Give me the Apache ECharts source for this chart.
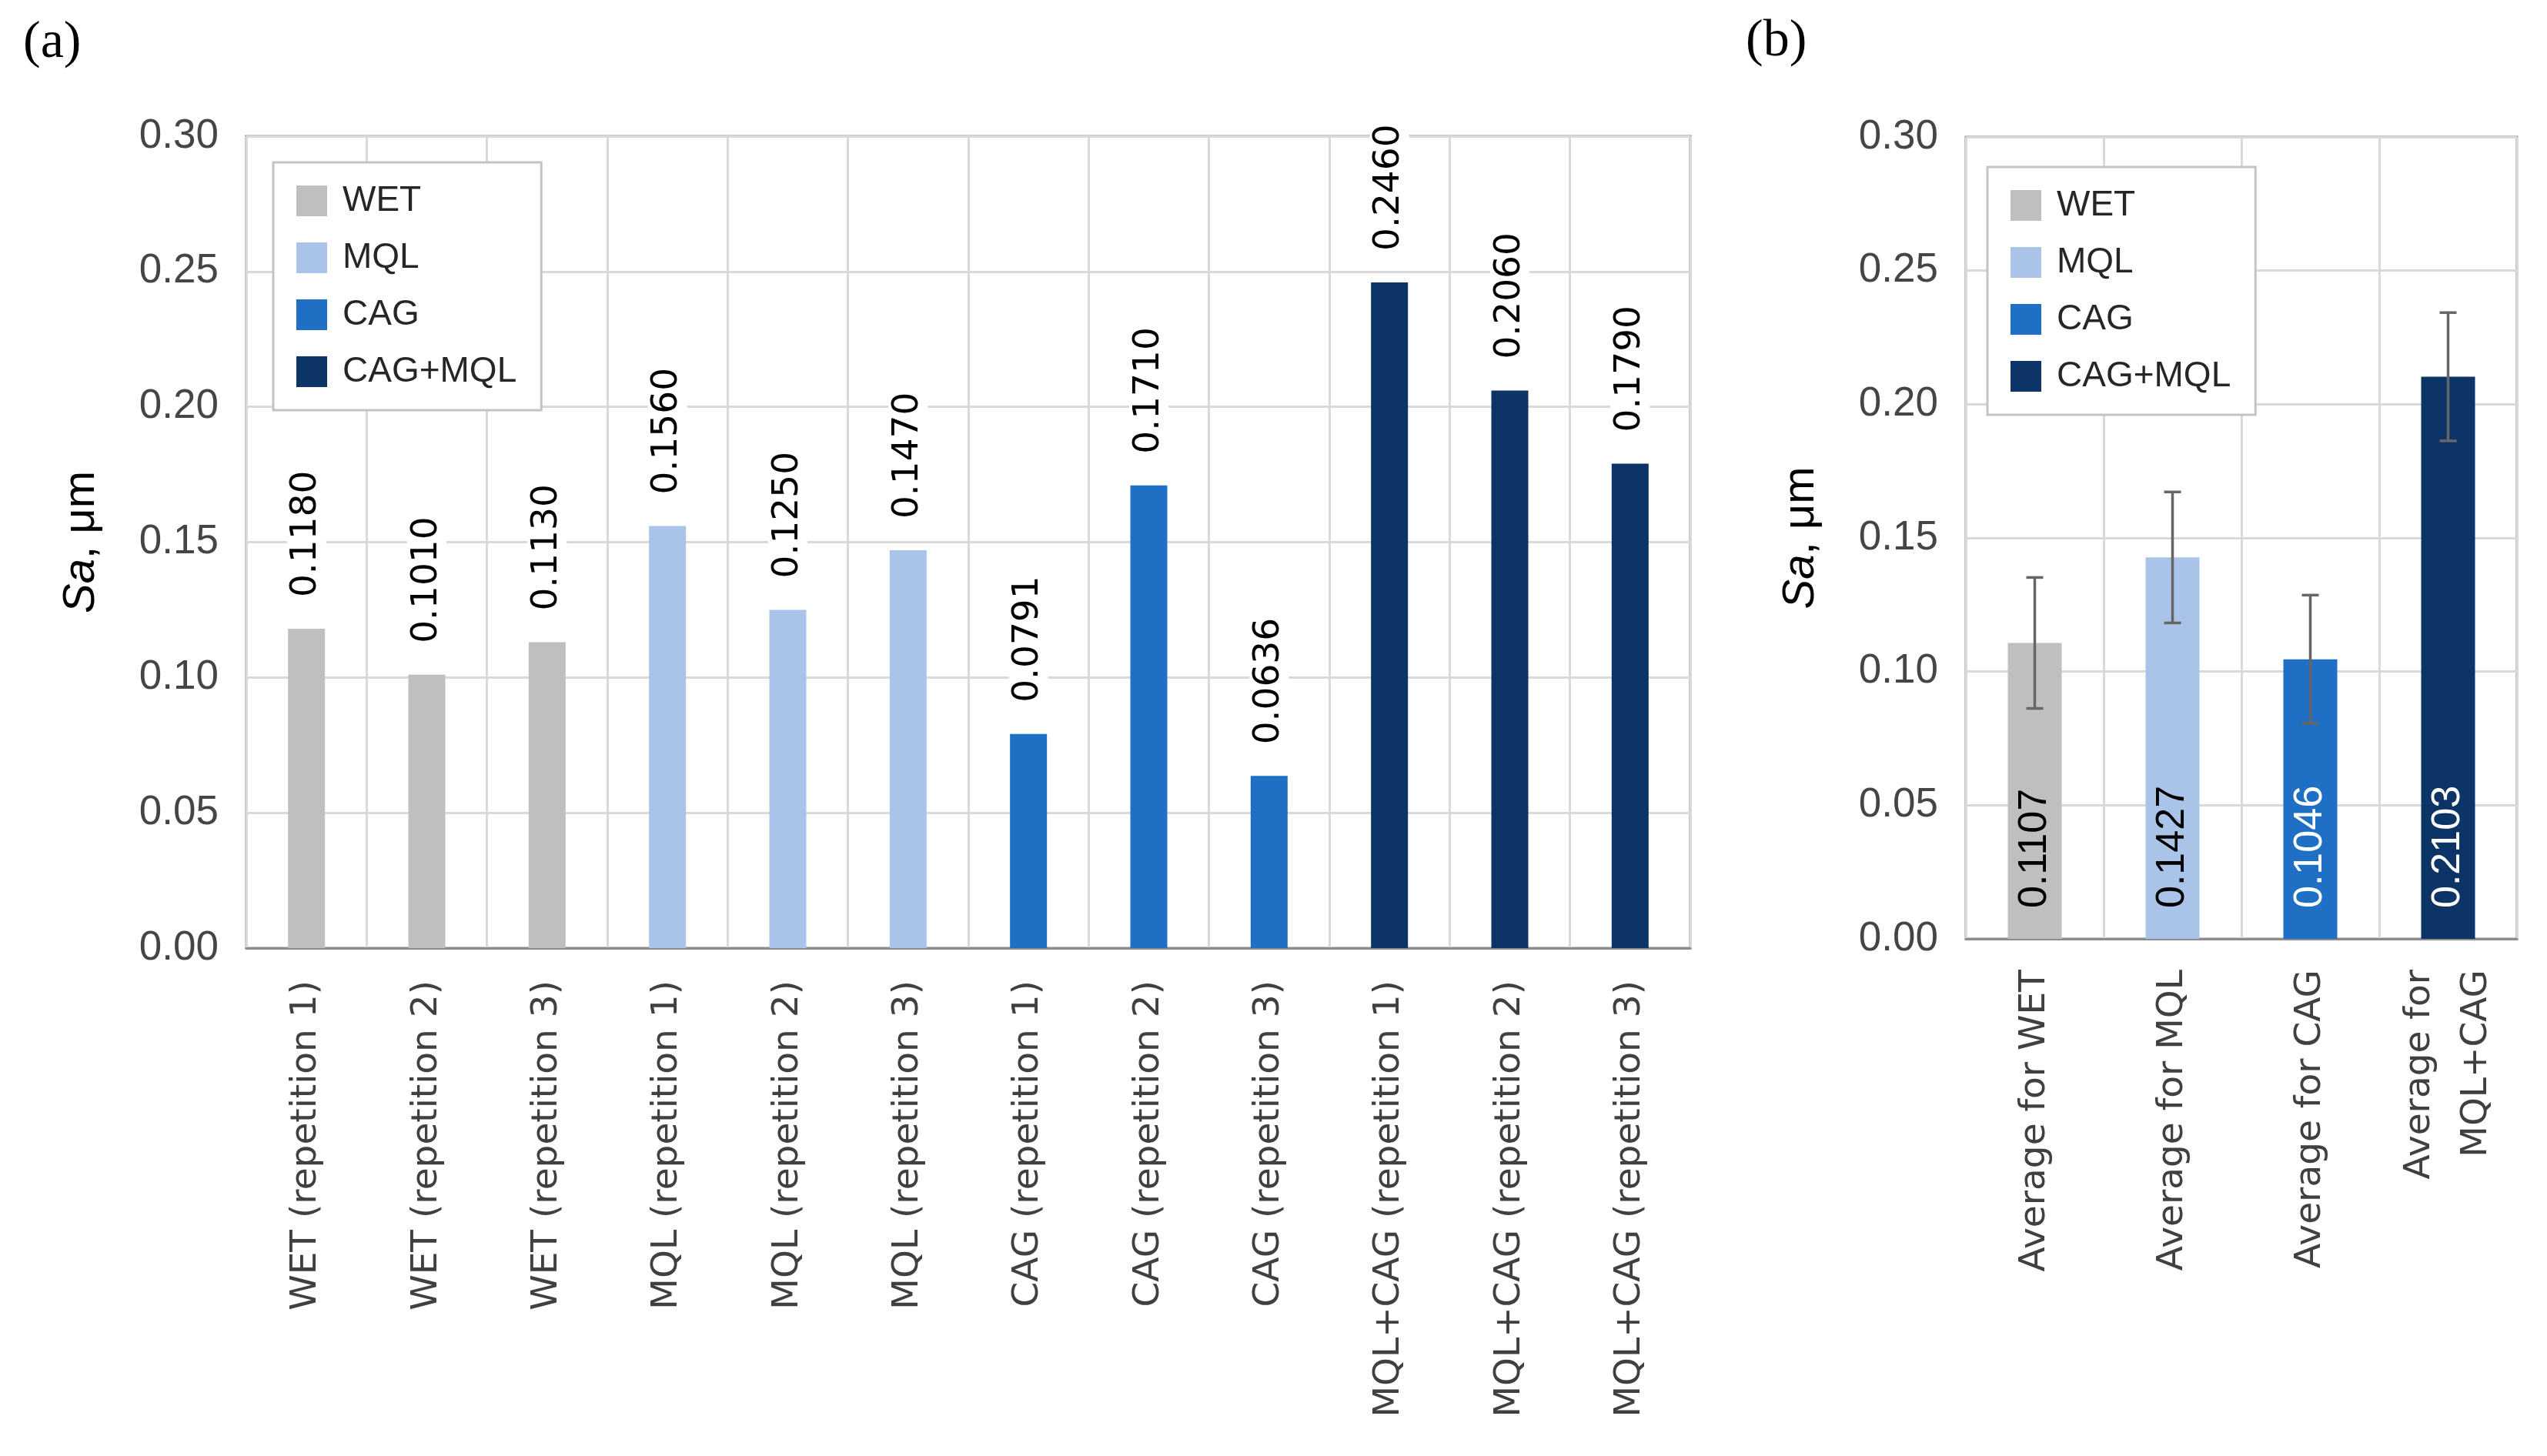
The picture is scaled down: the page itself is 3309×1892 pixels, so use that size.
<!DOCTYPE html>
<html>
<head>
<meta charset="utf-8">
<script src="https://cdn.jsdelivr.net/npm/echarts@6/dist/echarts.min.js"></script>
<style>
html,body{margin:0;padding:0;background:#fff;}
#chart{width:3309px;height:1892px;}
</style>
</head>
<body>
<div id="chart"></div>
<script>
// ---- data ----
const categoriesA = ['WET (repetition 1)','WET (repetition 2)','WET (repetition 3)',
  'MQL (repetition 1)','MQL (repetition 2)','MQL (repetition 3)',
  'CAG (repetition 1)','CAG (repetition 2)','CAG (repetition 3)',
  'MQL+CAG (repetition 1)','MQL+CAG (repetition 2)','MQL+CAG (repetition 3)'];
const valuesA = [0.1180, 0.1010, 0.1130, 0.1560, 0.1250, 0.1470, 0.0791, 0.1710, 0.0636, 0.2460, 0.2060, 0.1790];
const groupsA = ['WET','WET','WET','MQL','MQL','MQL','CAG','CAG','CAG','CAG+MQL','CAG+MQL','CAG+MQL'];
const groupNames = ['WET','MQL','CAG','CAG+MQL'];
const categoriesB = ['Average for WET','Average for MQL','Average for CAG','Average for\nMQL+CAG'];
const groupsB = ['WET','MQL','CAG','CAG+MQL'];
const valuesB = [0.1107, 0.1427, 0.1046, 0.2103];
const errorsB = [0.0245, 0.0245, 0.024, 0.024];
const yTicks = {min: 0, max: 0.30, interval: 0.05};

// ---- styles ----
const groupColors = {'WET':'#bfbfbf','MQL':'#a9c4e8','CAG':'#1f6fc5','CAG+MQL':'#0c3466'};
const labelColorsB = {'WET':'#000','MQL':'#000','CAG':'#fff','CAG+MQL':'#fff'};
const SANS = 'Liberation Sans';
const VERD = 'DejaVu Sans';

const chart = echarts.init(document.getElementById('chart'), null, {renderer:'canvas'});

function yAxis(gridIndex, gap){
  return {
    type:'value', gridIndex, min:yTicks.min, max:yTicks.max, interval:yTicks.interval,
    name:'{i|Sa}, μm', nameLocation:'middle', nameGap:gap, nameRotate:90,
    nameTextStyle:{fontFamily:SANS, fontSize:58, color:'#000',
      rich:{i:{fontFamily:SANS, fontSize:58, fontStyle:'italic', color:'#000'}}},
    axisLine:{show:false}, axisTick:{show:false},
    axisLabel:{fontFamily:SANS, fontSize:53, color:'#454545', margin:36,
      formatter:(v)=>v.toFixed(2)},
    splitLine:{show:true, lineStyle:{color:'#d9d9d9', width:3}}
  };
}

function xAxis(gridIndex, data, margin, lh){
  return {
    type:'category', gridIndex, data,
    axisLine:{show:true, lineStyle:{color:'#8c8c8c', width:3}},
    axisTick:{show:false},
    axisLabel:{interval:0, rotate:90, margin, fontFamily:VERD, fontSize:47, color:'#404040', lineHeight:lh},
    splitLine:{show:true, interval:0, lineStyle:{color:'#d9d9d9', width:3}}
  };
}

const legendCommon = {
  orient:'vertical', data:groupNames, icon:'rect', itemWidth:40, itemHeight:40, itemGap:28,
  padding:[27,32,27,30], borderColor:'#c4c4c4', borderWidth:3, backgroundColor:'#fff',
  textStyle:{fontFamily:SANS, fontSize:46, color:'#262626', padding:[0,0,0,15], lineHeight:40},
  selectedMode:false
};

const series = [];
groupNames.forEach(g=>{
  series.push({
    type:'bar', name:g, xAxisIndex:0, yAxisIndex:0, stack:'a', barWidth:48,
    itemStyle:{color:groupColors[g]},
    data: valuesA.map((v,i)=> groupsA[i]===g ? v : '-'),
    label:{show:true, position:'top', distance:35, rotate:90, align:'left', verticalAlign:'middle',
      fontFamily:VERD, fontSize:47, color:'#000', backgroundColor:'#fff', padding:[2,6],
      formatter:(p)=>Number(p.value).toFixed(4)},
    z:3
  });
});
groupNames.forEach(g=>{
  series.push({
    type:'bar', name:g, xAxisIndex:1, yAxisIndex:1, stack:'b', barWidth:70,
    itemStyle:{color:groupColors[g]},
    data: valuesB.map((v,i)=> groupsB[i]===g ? v : '-'),
    label:{show:true, position:'insideBottom', distance:40, rotate:90, align:'left', verticalAlign:'middle',
      fontFamily:SANS, fontSize:52, color:labelColorsB[g],
      formatter:(p)=>Number(p.value).toFixed(4)},
    z:3
  });
});
series.push({
  type:'custom', name:'error', xAxisIndex:1, yAxisIndex:1, z:10,
  encode:{x:0, y:[1,2]},
  data: valuesB.map((v,i)=>[i, v-errorsB[i], v+errorsB[i]]),
  renderItem:(params, api)=>{
    const x = api.value(0);
    const lo = api.coord([x, api.value(1)]);
    const hi = api.coord([x, api.value(2)]);
    const hw = 11;
    const style = {stroke:'#666666', lineWidth:3.5};
    return {type:'group', children:[
      {type:'line', shape:{x1:lo[0], y1:lo[1], x2:hi[0], y2:hi[1]}, style},
      {type:'line', shape:{x1:hi[0]-hw, y1:hi[1], x2:hi[0]+hw, y2:hi[1]}, style},
      {type:'line', shape:{x1:lo[0]-hw, y1:lo[1], x2:lo[0]+hw, y2:lo[1]}, style}
    ]};
  }
});

chart.setOption({
  backgroundColor:'#fff',
  animation:false,
  title:[
    {text:'(a)', left:30, top:22, padding:0, textStyle:{fontFamily:'Liberation Serif', fontSize:68, fontWeight:'normal', color:'#000'}},
    {text:'(b)', left:2268, top:20, padding:0, textStyle:{fontFamily:'Liberation Serif', fontSize:68, fontWeight:'normal', color:'#000'}}
  ],
  legend:[
    Object.assign({left:355, top:211}, legendCommon),
    Object.assign({left:2582, top:217}, legendCommon)
  ],
  grid:[
    {left:320, right:1113, top:177, bottom:660, show:true, borderColor:'#8c8c8c', borderWidth:3, containLabel:false},
    {left:2554, right:39, top:178, bottom:672, show:true, borderColor:'#8c8c8c', borderWidth:3, containLabel:false}
  ],
  xAxis:[ xAxis(0, categoriesA, 42, 56), xAxis(1, categoriesB, 40, 74) ],
  yAxis:[ yAxis(0, 185), yAxis(1, 185) ],
  series
});
</script>
</body>
</html>
